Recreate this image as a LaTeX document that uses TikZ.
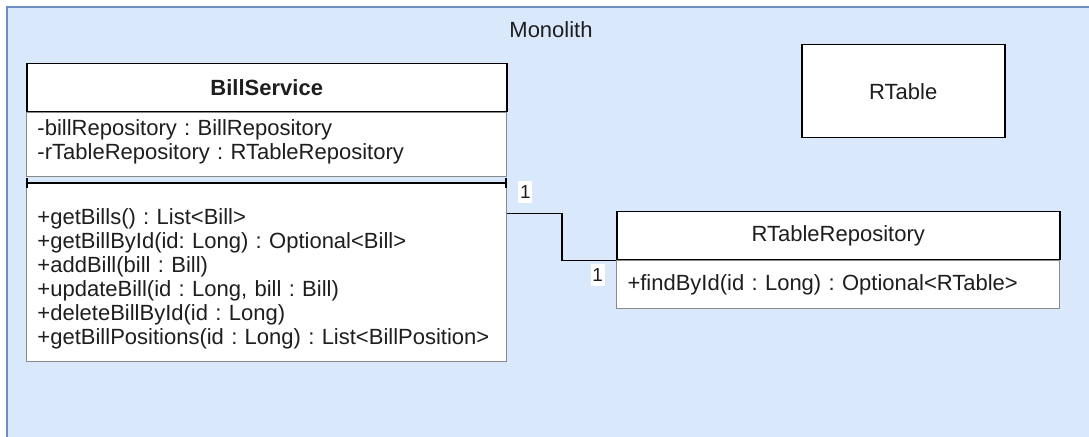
\documentclass[tikz,border=0pt]{standalone}
\usepackage{fontspec}
\setmainfont{Liberation Sans}
\usetikzlibrary{positioning,arrows.meta}
\definecolor{gruppo}{HTML}{DAE8FC}
\definecolor{bordogruppo}{HTML}{6C8EBF}
\definecolor{bordocella}{HTML}{8A8A8A}
\definecolor{testo}{HTML}{1E1E1E}
\frenchspacing
\begin{document}
\begin{tikzpicture}[x=0.5pt,y=-0.5pt,
    every node/.style={text=testo,font=\fontsize{11}{12}\selectfont},
    testata/.style={draw=black,line width=0.75pt,fill=white,inner sep=0pt,minimum height=24pt},
    cella/.style={draw=bordocella,line width=0.5pt,fill=white,inner xsep=5.5pt,inner ysep=0pt,align=left},
    separatore/.style={black,line width=1pt,{Bar[width=5pt]}-{Bar[width=5pt]}},
    assoc/.style={black,line width=0.9pt},
    molt/.style={fill=white,inner sep=0pt,minimum width=7pt,minimum height=11pt,font=\fontsize{9.4}{10}\selectfont}]
    \clip (0,0) rectangle (1089,437);

    % Disegna il contenitore Monolith
    \fill[gruppo,draw=bordogruppo,line width=0.6pt] (7,7) rectangle (1110,460);
    \node (titolo) at (551,30) {Monolith};

    % Disegna la classe BillService
    \node[testata,minimum width=240pt,anchor=north west,font=\fontsize{11}{12}\selectfont\bfseries] (bill) at (26,63) {BillService};
    \node[cella,text width=229pt,minimum height=32pt,below=0pt of bill.south west,anchor=north west] (billattr)
        {-billRepository : BillRepository\\-rTableRepository : RTableRepository\rule[-5.3pt]{0pt}{0pt}};
    \node[cella,text width=229pt,minimum height=89pt,anchor=north west] (billops) at ([yshift=-3pt]billattr.south west)
        {\rule{0pt}{14pt}+getBills() : List<Bill>\\+getBillById(id: Long) : Optional<Bill>\\+addBill(bill : Bill)\\
         +updateBill(id : Long, bill : Bill)\\+deleteBillById(id : Long)\\+getBillPositions(id : Long) : List<BillPosition>};
    \draw[separatore] (billops.north west) -- (billops.north east);

    % Disegna la classe RTableRepository
    \node[testata,minimum width=221.5pt,anchor=north west] (repo) at (616,211) {RTableRepository};
    \node[cella,text width=210.5pt,minimum height=24pt,below=0pt of repo.south west,anchor=north west] (repoops)
        {+findById(id : Long) : Optional<RTable>};

    % Disegna la classe RTable
    \node[testata,minimum width=101.5pt,minimum height=46.5pt,anchor=north west] (rtable) at (801,44) {RTable};

    % Disegna l'associazione con le molteplicita'
    \draw[assoc] ([yshift=-15pt]billops.north east) -- ++(55,0) |- (repo.south west);
    \node[molt,anchor=south west] (m1) at ([xshift=5.5pt,yshift=4pt]billops.north east |- repo.north) {1};
    \node[molt,anchor=north east] (m2) at ([xshift=-5.5pt,yshift=-1.5pt]repo.south west) {1};
\end{tikzpicture}
\end{document}
